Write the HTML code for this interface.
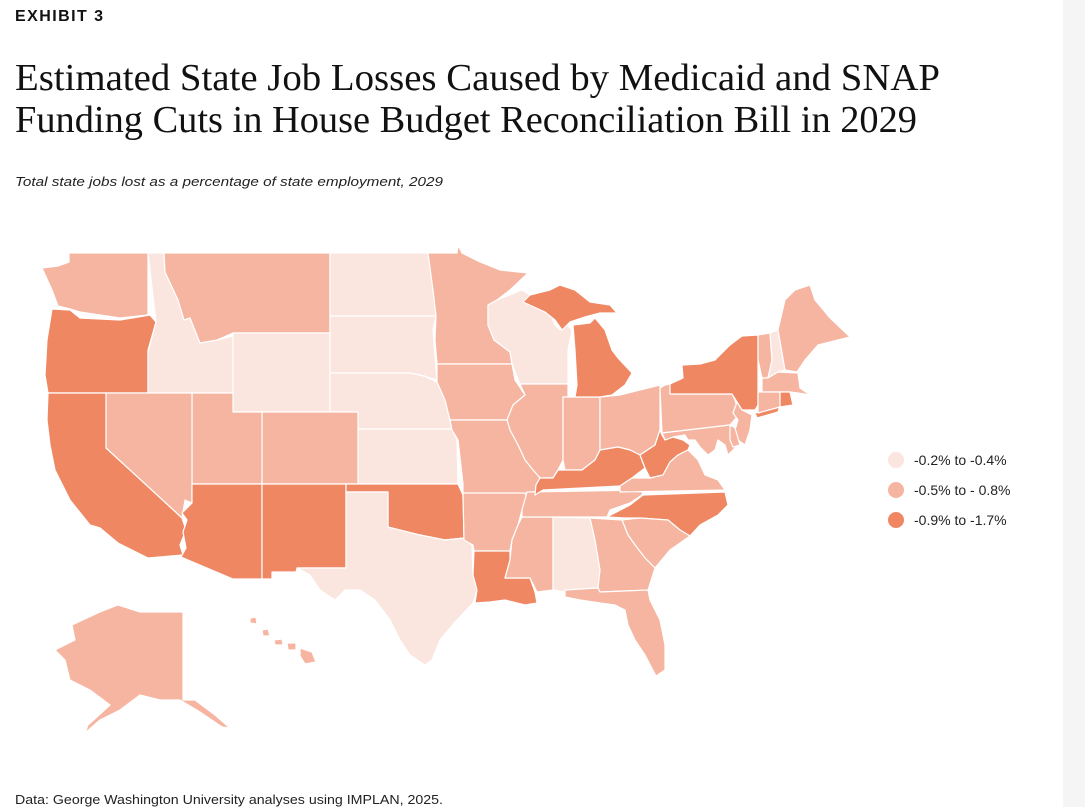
<!DOCTYPE html>
<html><head><meta charset="utf-8"><style>
body{margin:0;background:#fff;}
svg{display:block;font-family:"Liberation Sans",sans-serif;}
</style></head><body>
<svg width="1085" height="807" viewBox="0 0 1085 807">
<rect x="1063" y="0" width="22" height="807" fill="#f5f5f5"/>
<text x="15" y="21" font-size="16" font-weight="bold" fill="#111" textLength="88">EXHIBIT 3</text>
<text x="15" y="90" font-family="Liberation Serif, serif" font-size="38" fill="#111" textLength="925" lengthAdjust="spacingAndGlyphs">Estimated State Job Losses Caused by Medicaid and SNAP</text>
<text x="15" y="132" font-family="Liberation Serif, serif" font-size="38" fill="#111" textLength="902" lengthAdjust="spacingAndGlyphs">Funding Cuts in House Budget Reconciliation Bill in 2029</text>
<text x="15" y="186" font-size="13" font-style="italic" fill="#222" textLength="428" lengthAdjust="spacingAndGlyphs">Total state jobs lost as a percentage of state employment, 2029</text>
<text x="15" y="804" font-size="13" fill="#222" textLength="428" lengthAdjust="spacingAndGlyphs">Data: George Washington University analyses using IMPLAN, 2025.</text>
<g id="map"></g>
<g id="legend"></g>
</svg>
<script>
const categoryLabels=["-0.2% to -0.4%","-0.5% to - 0.8%","-0.9% to -1.7%"];
const categoryColors=["#fbe5df","#f5b5a0","#ef8763"];
const stateCodes=["WA","OR","ID","MT","WY","ND","SD","NE","KS","CO","UT","NV","CA","AZ","NM","OK","TX","MN","IA","WI","IL","IN","OH","MI","MIU","MO","AR","LA","MS","AL","TN","KY","WV","VA","NC","SC","GA","FL","PA","NY","LI","NJ","MD","DE","VT","NH","ME","MA","CT","RI","AK","HI1","HI2","HI3","HI4","HI5"];
const stateCategory=[1,2,0,1,0,0,0,0,0,1,1,1,2,2,2,2,0,1,1,0,1,1,1,2,2,1,1,2,1,0,1,2,2,1,2,1,1,1,1,2,2,1,1,1,1,0,1,1,1,2,1,1,1,1,1,1];
const shapes={
WA:"69,253 148,253 148,315 120,318 80,312 70,309 58,306 52,290 42,268 58,266 69,262",
OR:"52,309 70,310 80,318 120,320 150,315 156,322 148,350 148,393 48,393 45,375 47,340",
ID:"148,253 164,253 165,272 178,300 184,320 190,318 200,343 217,340 233,336 233,393 148,393 148,352 156,322",
MT:"164,253 330,253 330,333 233,333 217,340 200,343 190,318 184,320 178,300 165,272",
WY:"233,333 330,333 330,412 233,412",
ND:"330,253 430,253 433,290 436,316 330,316",
SD:"330,316 436,316 433,330 436,370 437,380 424,376 410,373 330,373",
NE:"330,373 410,373 424,376 437,382 445,400 452,429 358,429 358,412 330,412",
KS:"358,429 452,429 457,440 458,484 358,484",
CO:"262,412 358,412 358,484 262,484",
UT:"192,393 233,393 233,412 262,412 262,484 192,484",
NV:"106,393 192,393 192,503 185,500 182,518 106,448",
CA:"48,393 106,393 106,448 182,518 186,530 180,545 183,555 148,558 118,543 100,528 90,525 70,500 55,470 50,445 47,420",
AZ:"192,484 262,484 262,579 233,579 181,557 186,548 183,532 187,520 182,513 192,503",
NM:"262,484 346,484 346,568 297,568 296,572 272,572 272,579 262,579",
OK:"346,484 458,484 463,495 464,538 445,540 420,535 400,532 388,527 388,492 346,492",
TX:"346,492 388,492 388,527 420,535 445,540 464,538 472,545 473,575 477,590 473,603 455,622 440,640 432,660 425,665 410,655 400,640 390,620 375,600 360,590 345,590 335,600 320,590 310,575 297,568 346,568",
MN:"428,253 457,253 458,245 462,253 480,262 500,270 528,273 510,290 497,300 488,305 488,325 494,340 510,352 512,364 437,364 435,340 436,316 433,290",
IA:"437,364 512,364 515,380 525,395 513,405 507,420 450,420 445,400 437,382",
WI:"488,305 497,300 522,290 535,298 547,305 555,325 560,330 565,323 572,330 568,350 568,384 520,384 512,364 510,352 494,340 488,325",
IL:"520,384 568,384 568,397 563,397 563,460 558,470 553,478 540,478 533,470 525,460 518,445 510,430 507,420 513,405 525,395",
IN:"563,397 600,397 600,450 595,460 582,470 565,470 563,460",
OH:"600,397 620,395 640,390 660,385 660,430 655,445 640,455 630,450 618,447 600,450",
MI:"575,397 577,385 575,350 573,325 590,323 595,318 605,330 612,350 618,358 632,373 625,385 612,395 600,397",
MIU:"523,302 530,295 550,290 560,285 575,290 590,302 610,305 617,313 600,313 585,317 570,322 562,330 555,320 545,312",
MO:"450,420 507,420 510,430 518,445 525,460 533,470 540,478 536,485 535,495 527,492 525,500 463,500 463,484 458,440 452,430",
AR:"463,493 525,493 527,498 522,510 518,525 512,540 510,551 474,551 473,545 464,540",
LA:"474,551 510,551 510,560 505,578 530,578 535,592 537,603 525,605 505,600 490,602 475,603 477,590 473,575",
MS:"512,540 518,525 522,517 553,517 553,590 537,592 530,578 505,578 510,560",
AL:"553,517 590,518 595,540 600,570 598,588 565,590 565,592 553,590",
TN:"527,492 643,490 642,495 630,503 610,510 607,517 522,517 522,510",
KY:"540,478 553,478 558,470 565,470 582,470 595,460 600,450 618,447 630,450 640,455 645,468 632,478 620,486 543,490 535,495 536,485",
WV:"640,455 655,445 660,430 662,435 665,440 673,437 683,440 690,445 688,450 678,455 670,462 663,475 650,478 645,468",
VA:"620,486 632,478 650,478 663,475 670,462 678,455 688,450 698,460 705,475 718,480 725,490 620,492",
NC:"607,517 630,505 643,495 725,492 728,505 718,515 700,525 690,536 680,530 668,520 640,518 625,518",
SC:"622,520 640,518 668,520 680,530 690,536 670,550 655,568 645,558 635,545 628,535",
GA:"590,518 622,520 628,535 635,545 645,558 655,568 648,590 600,592 598,588 600,570 595,540",
FL:"565,590 598,588 600,592 648,590 650,600 660,620 665,645 665,670 656,676 645,655 635,640 628,625 625,610 615,605 600,603 580,600 565,597",
PA:"660,388 665,385 670,384 670,394 732,394 735,400 738,410 736,418 730,425 662,433",
NY:"670,384 670,394 732,394 737,402 742,410 755,410 758,405 758,335 742,336 730,345 715,360 700,364 682,365 683,378",
LI:"755,413 780,405 778,412 757,418",
NJ:"737,402 742,410 752,415 750,430 745,445 738,440 735,430 738,420 733,413",
MD:"662,433 730,425 733,440 738,445 728,455 725,445 718,440 715,450 708,455 700,447 695,440 688,440 685,435 673,437 665,440",
DE:"730,425 735,428 740,445 733,447 730,440",
VT:"758,335 770,333 772,360 768,378 762,378 758,360",
NH:"770,333 778,330 785,370 778,372 768,378 772,360",
ME:"778,330 785,300 795,290 810,285 815,300 830,318 850,337 818,345 805,360 797,372 785,370",
MA:"762,378 768,378 778,372 798,373 800,388 810,395 798,393 790,392 762,392",
CT:"758,392 780,392 780,407 758,413",
RI:"780,392 790,392 793,405 780,407",
AK:"100,612 118,605 140,612 183,612 183,700 195,700 215,715 230,728 222,727 200,712 180,700 160,700 140,695 120,710 100,720 85,733 88,725 110,705 90,690 70,680 65,660 55,650 75,640 72,625",
HI1:"250,618 256,617 257,624 250,623",
HI2:"262,630 268,629 270,636 263,636",
HI3:"274,640 282,639 283,645 275,645",
HI4:"287,643 296,643 296,650 288,650",
HI5:"300,648 312,652 316,662 305,664 300,656"
};
const svgNS="http://www.w3.org/2000/svg";
const map=document.getElementById('map');
stateCodes.forEach((code,i)=>{
  const p=document.createElementNS(svgNS,'polygon');
  p.setAttribute('points',shapes[code]);
  p.setAttribute('fill',categoryColors[stateCategory[i]]);
  p.setAttribute('stroke','#fff');
  p.setAttribute('stroke-width','1.2');
  p.setAttribute('stroke-linejoin','round');
  
  
  map.appendChild(p);
});
const leg=document.getElementById('legend');
categoryLabels.forEach((lab,i)=>{
  const y=460+i*30;
  const c=document.createElementNS(svgNS,'circle');
  c.setAttribute('cx',896);c.setAttribute('cy',y);c.setAttribute('r',8);
  c.setAttribute('fill',categoryColors[i]);
  
  
  leg.appendChild(c);
  const t=document.createElementNS(svgNS,'text');
  t.setAttribute('x',914);t.setAttribute('y',y+5);
  t.setAttribute('font-size','14');t.setAttribute('fill','#222');
  t.textContent=lab;
  
  
  leg.appendChild(t);
});
</script>
</body></html>
